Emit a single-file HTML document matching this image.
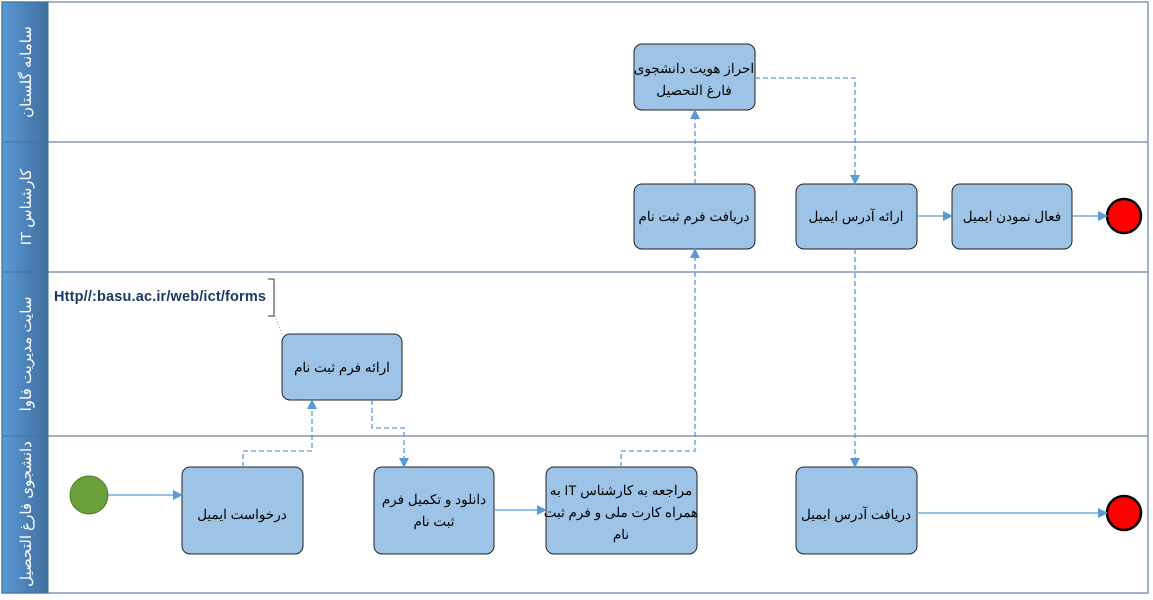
<!DOCTYPE html>
<html><head><meta charset="utf-8"><style>
body{margin:0;background:#fff;}
svg text{font-family:"Liberation Sans","Noto Sans CJK SC",sans-serif;}
</style></head><body>
<svg width="1153" height="595" xmlns="http://www.w3.org/2000/svg">
<defs>
<linearGradient id="hg" x1="0" y1="0" x2="1" y2="0">
<stop offset="0" stop-color="#5b9bd5"/><stop offset="0.6" stop-color="#4a7fb5"/><stop offset="1" stop-color="#41719c"/>
</linearGradient>
<marker id="ar" markerWidth="10" markerHeight="10" refX="9" refY="5" orient="auto" markerUnits="userSpaceOnUse">
<path d="M0,0 L10,5 L0,10 z" fill="#5b9bd5"/></marker>
</defs>
<rect x="0" y="0" width="1153" height="595" fill="#fff"/>
<rect x="2" y="2" width="1146" height="591" fill="none" stroke="#8497b0" stroke-width="1.5"/>
<g stroke="#8497b0" stroke-width="1.5">
<line x1="2" y1="142" x2="1148" y2="142"/>
<line x1="2" y1="272" x2="1148" y2="272"/>
<line x1="2" y1="436" x2="1148" y2="436"/>
</g>
<rect x="2" y="2" width="46" height="140" fill="url(#hg)" stroke="#41719c"/>
<rect x="2" y="142" width="46" height="130" fill="url(#hg)" stroke="#41719c"/>
<rect x="2" y="272" width="46" height="164" fill="url(#hg)" stroke="#41719c"/>
<rect x="2" y="436" width="46" height="157" fill="url(#hg)" stroke="#41719c"/>
<g fill="#fff" font-size="15" text-anchor="middle">
<text transform="translate(31,72) rotate(-90)" direction="rtl">سامانه گلستان</text>
<text transform="translate(31,207) rotate(-90)" direction="rtl">کارشناس IT</text>
<text transform="translate(31,354) rotate(-90)" direction="rtl">سایت مدیریت فاوا</text>
<text transform="translate(31,514) rotate(-90)" direction="rtl">دانشجوی فارغ التحصیل</text>
</g>
<text x="54" y="301" font-size="14.5" font-weight="bold" fill="#1f3864" textLength="212">Http//:basu.ac.ir/web/ict/forms</text>
<path d="M268,279 H274 V316 H268" fill="none" stroke="#333" stroke-width="1"/>
<line x1="275" y1="316" x2="282" y2="334" stroke="#999" stroke-dasharray="1,2"/>
<g fill="#9dc3e6" stroke="#222" stroke-width="1">
<rect x="634" y="44" width="121" height="66" rx="8"/>
<rect x="634" y="184" width="121" height="65" rx="8"/>
<rect x="796" y="184" width="121" height="65" rx="8"/>
<rect x="952" y="184" width="120" height="65" rx="8"/>
<rect x="282" y="334" width="120" height="66" rx="8"/>
<rect x="182" y="467" width="121" height="87" rx="8"/>
<rect x="374" y="467" width="120" height="87" rx="8"/>
<rect x="546" y="467" width="151" height="87" rx="8"/>
<rect x="796" y="467" width="121" height="87" rx="8"/>
</g>
<g font-size="13.5" fill="#000" text-anchor="middle" direction="rtl">
<text x="694" y="73">احراز هویت دانشجوی</text>
<text x="694" y="95">فارغ التحصیل</text>
<text x="694" y="221">دریافت فرم ثبت نام</text>
<text x="856" y="221">ارائه آدرس ایمیل</text>
<text x="1012" y="221">فعال نمودن ایمیل</text>
<text x="342" y="372">ارائه فرم ثبت نام</text>
<text x="242" y="519">درخواست ایمیل</text>
<text x="434" y="504">دانلود و تکمیل فرم</text>
<text x="434" y="526">ثبت نام</text>
<text x="621" y="495">مراجعه به کارشناس IT به</text>
<text x="621" y="517">همراه کارت ملی و فرم ثبت</text>
<text x="621" y="539">نام</text>
<text x="856" y="519">دریافت آدرس ایمیل</text>
</g>
<circle cx="89" cy="495" r="19" fill="#6aa03a" stroke="#4e7a28"/>
<circle cx="1124" cy="216" r="17" fill="#f00" stroke="#000" stroke-width="2.5"/>
<circle cx="1124" cy="513" r="17" fill="#f00" stroke="#000" stroke-width="2.5"/>
<g fill="none" stroke="#5b9bd5" stroke-width="1.3" marker-end="url(#ar)">
<line x1="108" y1="495" x2="182" y2="495"/>
<line x1="494" y1="510" x2="546" y2="510"/>
<line x1="917" y1="216" x2="952" y2="216"/>
<line x1="1072" y1="216" x2="1107" y2="216"/>
<line x1="917" y1="513" x2="1107" y2="513"/>
</g>
<g fill="none" stroke="#5b9bd5" stroke-width="1.3" stroke-dasharray="5,3" marker-end="url(#ar)">
<path d="M243,467 V451 H312 V400"/>
<path d="M372,400 V428 H404 V467"/>
<path d="M621,467 V451 H695 V249"/>
<path d="M695,184 V110"/>
<path d="M755,78 H855 V184"/>
<path d="M855,249 V467"/>
</g>
</svg>
</body></html>
